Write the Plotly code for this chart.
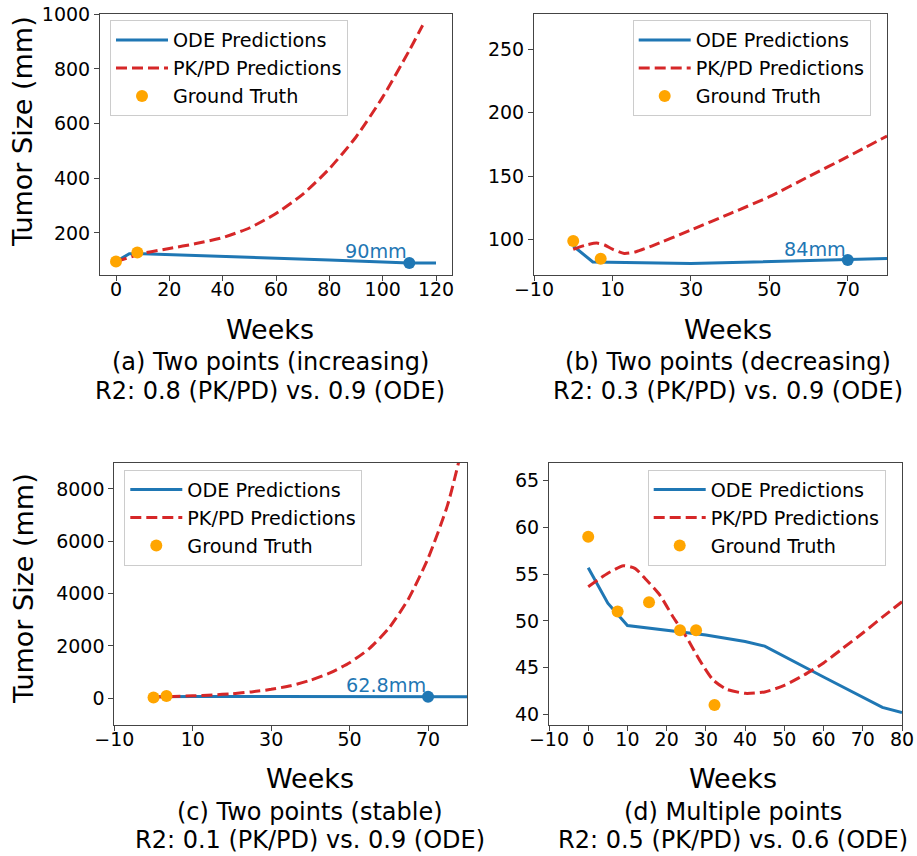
import plotly.graph_objects as go

# ---------------- data ----------------
# (a) Two points (increasing)
a_gt_x = [0, 8]
a_gt_y = [95, 128]
a_ode_x = [0, 5, 10, 20, 40, 60, 80, 100, 110, 120]
a_ode_y = [95, 124, 124, 121, 115, 108, 101, 94, 90, 90]
a_pk_x = [0, 10, 20, 30, 40, 50, 60, 70, 80, 90, 100, 110, 115]
a_pk_y = [95, 125, 143, 161, 183, 218, 271, 341, 435, 551, 697, 868, 960]
a_end = (110, 90)
a_label = "90mm"

# (b) Two points (decreasing)
b_gt_x = [0, 7]
b_gt_y = [99, 85]
b_ode_x = [0, 5, 30, 50, 70, 80]
b_ode_y = [95, 82.5, 81.2, 82.6, 84, 85.2]
b_pk_x = [0, 3, 6, 8, 10, 13, 16, 20, 30, 40, 50, 60, 70, 80]
b_pk_y = [92.4, 95.5, 97.3, 95.8, 92.5, 89.2, 90.5, 95, 107.6, 120.5, 133.8, 149.6, 165.3, 181.6]
b_end = (70, 84)
b_label = "84mm"

# (c) Two points (stable)
c_gt_x = [0, 3.3]
c_gt_y = [30, 90]
c_ode_x = [0, 5, 10, 30, 50, 70, 80]
c_ode_y = [60, 70, 68, 66, 64, 62.8, 62]
c_pk_x = [0, 5, 10, 15, 20, 25, 30, 35, 40, 45, 50, 55, 60, 65, 70, 75, 80]
c_pk_y = [50, 65, 95, 130, 175, 245, 344, 480, 690, 970, 1360, 1900, 2680, 3800, 5350, 7400, 10400]
c_end = (70, 62.8)
c_label = "62.8mm"

# (d) Multiple points
d_gt_x = [0, 7.5, 15.5, 23.4, 27.5, 32.2]
d_gt_y = [59, 51, 52, 49, 49, 41]
d_ode_x = [0, 5, 10, 20, 30, 40, 45, 60, 75, 80]
d_ode_y = [55.7, 51.9, 49.5, 49.0, 48.5, 47.8, 47.3, 44.0, 40.75, 40.2]
d_pk_x = [0, 5, 9, 12, 14.8, 18.2, 21.6, 25, 28.4, 31.8, 35.2, 40, 45, 50, 55, 60, 65, 70, 75, 80]
d_pk_y = [53.65, 55.1, 55.9, 55.6, 54.4, 52.8, 50.45, 48.3, 45.8, 43.7, 42.7, 42.25,
          42.4, 43.1, 44.2, 45.5, 47.1, 48.7, 50.4, 52.05]

captions = [
    ("(a) Two points (increasing)", "R2: 0.8 (PK/PD) vs. 0.9 (ODE)"),
    ("(b) Two points (decreasing)", "R2: 0.3 (PK/PD) vs. 0.9 (ODE)"),
    ("(c) Two points (stable)", "R2: 0.1 (PK/PD) vs. 0.9 (ODE)"),
    ("(d) Multiple points", "R2: 0.5 (PK/PD) vs. 0.6 (ODE)"),
]

# ---------------- styling ----------------
W, H = 917, 856
FONT = "DejaVu Sans"
BLUE = "#1f77b4"
RED = "#d62728"
ORANGE = "#ffa500"
TICK_FS = 19
LEG_FS = 19.2

def px(x):
    return x / W

def py(y):
    return 1 - y / H

fig = go.Figure()

panels = [
    dict(gt=(a_gt_x, a_gt_y), ode=(a_ode_x, a_ode_y), pk=(a_pk_x, a_pk_y), end=a_end, label=a_label,
         xd=(100, 452), yd=(13.5, 275), xr=[-6, 126], yr=[46, 1003],
         xt=[0, 20, 40, 60, 80, 100, 120], yt=[200, 400, 600, 800, 1000],
         leg=(110, 20)),
    dict(gt=(b_gt_x, b_gt_y), ode=(b_ode_x, b_ode_y), pk=(b_pk_x, b_pk_y), end=b_end, label=b_label,
         xd=(534, 887), yd=(13.5, 275), xr=[-10, 80], yr=[72.2, 278],
         xt=[-10, 10, 30, 50, 70], yt=[100, 150, 200, 250],
         leg=(632.7, 20)),
    dict(gt=(c_gt_x, c_gt_y), ode=(c_ode_x, c_ode_y), pk=(c_pk_x, c_pk_y), end=c_end, label=c_label,
         xd=(114.3, 467.3), yd=(463, 725), xr=[-10, 80], yr=[-1020, 8993],
         xt=[-10, 10, 30, 50, 70], yt=[0, 2000, 4000, 6000, 8000],
         leg=(124.3, 469.5)),
    dict(gt=(d_gt_x, d_gt_y), ode=(d_ode_x, d_ode_y), pk=(d_pk_x, d_pk_y), end=None, label=None,
         xd=(549, 902), yd=(463, 725), xr=[-10, 80], yr=[38.86, 66.9],
         xt=[-10, 0, 10, 20, 30, 40, 50, 60, 70, 80], yt=[40, 45, 50, 55, 60, 65],
         leg=(647.7, 469.5)),
]

def fmt(v):
    return ("\u2212" + str(abs(v))) if v < 0 else str(v)

annotations = []
for i, p in enumerate(panels):
    n = "" if i == 0 else str(i + 1)
    xa, ya = "x" + n, "y" + n
    leg = "legend" + n
    fig.add_trace(go.Scatter(x=p["ode"][0], y=p["ode"][1], mode="lines", name="ODE Predictions",
                             line=dict(color=BLUE, width=3), xaxis=xa, yaxis=ya, legend=leg))
    fig.add_trace(go.Scatter(x=p["pk"][0], y=p["pk"][1], mode="lines", name="PK/PD Predictions",
                             line=dict(color=RED, width=3, dash="11px,5px", shape="spline", smoothing=0.6),
                             xaxis=xa, yaxis=ya, legend=leg))
    fig.add_trace(go.Scatter(x=p["gt"][0], y=p["gt"][1], mode="markers", name="Ground Truth",
                             marker=dict(color=ORANGE, size=12), xaxis=xa, yaxis=ya, legend=leg))
    if p["end"] is not None:
        fig.add_trace(go.Scatter(x=[p["end"][0]], y=[p["end"][1]], mode="markers", showlegend=False,
                                 marker=dict(color=BLUE, size=12), xaxis=xa, yaxis=ya))
        annotations.append(dict(x=p["end"][0], y=p["end"][1], xref=xa, yref=ya, text=p["label"],
                                showarrow=False, xanchor="right", yanchor="middle", yshift=11,
                                font=dict(family=FONT, size=LEG_FS, color=BLUE)))
    axcommon = dict(showgrid=False, zeroline=False, showline=True, mirror=True,
                    linecolor="#444", linewidth=1, ticks="outside", ticklen=5, tickwidth=1,
                    tickcolor="#444", tickfont=dict(family=FONT, size=TICK_FS, color="black"),
                    automargin=False)
    fig.update_layout({
        "xaxis" + n: dict(domain=[px(p["xd"][0]), px(p["xd"][1])], range=p["xr"], anchor=ya,
                          tickmode="array", tickvals=p["xt"], ticktext=[fmt(v) for v in p["xt"]],
                          ticklabelstandoff=-8, **axcommon),
        "yaxis" + n: dict(domain=[py(p["yd"][1]), py(p["yd"][0])], range=p["yr"], anchor=xa,
                          tickmode="array", tickvals=p["yt"], ticktext=[fmt(v) for v in p["yt"]],
                          **axcommon),
        leg: dict(x=px(p["leg"][0]), y=py(p["leg"][1]), xanchor="left", yanchor="top",
                  xref="paper", yref="paper",
                  bgcolor="rgba(255,255,255,0.8)", bordercolor="#cccccc", borderwidth=1,
                  font=dict(family=FONT, size=LEG_FS, color="black"), itemwidth=52,
                  tracegroupgap=0),
    })

# captions (Weeks + two lines)
cap_centers = [270, 727.5, 310, 733]
base_rows = [(339, 370, 399), (339, 370, 399), (788, 820, 848), (788, 820, 848)]
for i, (l1, l2) in enumerate(captions):
    cx = cap_centers[i]
    b0, b1, b2 = base_rows[i]
    for txt, base, fs in (("Weeks", b0, 27), (l1, b1, 24), (l2, b2, 24)):
        annotations.append(dict(x=px(cx), y=py(base - 0.346 * fs), xref="paper", yref="paper",
                                text=txt, showarrow=False, xanchor="center", yanchor="middle",
                                font=dict(family=FONT, size=fs, color="black")))

# y-axis titles
for cy in (132, 589):
    annotations.append(dict(x=px(23), y=py(cy), xref="paper", yref="paper", text="Tumor Size (mm)",
                            textangle=-90, showarrow=False, xanchor="center", yanchor="middle",
                            font=dict(family=FONT, size=27, color="black")))

fig.update_layout(width=W, height=H, margin=dict(l=0, r=0, t=0, b=0, pad=0, autoexpand=False),
                  paper_bgcolor="white", plot_bgcolor="white",
                  font=dict(family=FONT), annotations=annotations)

fig.write_html("out.html", config={"displayModeBar": False},
               post_script="document.body.style.margin='0';")
